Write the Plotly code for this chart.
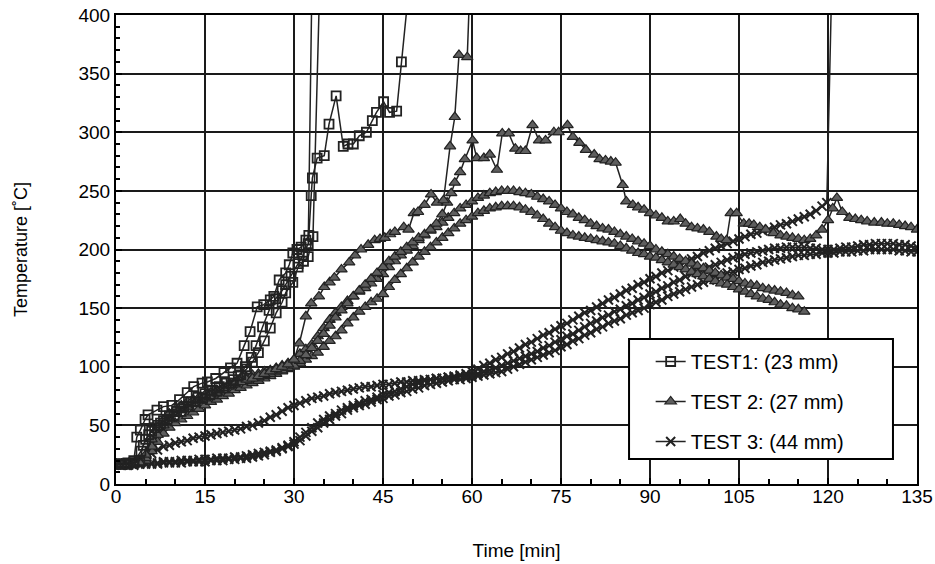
import plotly.graph_objects as go

# ---------------- data (time [min], temperature [C]) ----------------
# TEST1 (23 mm) - square markers
test1_a = [(0,17),(1,17),(2,17),(3,20),(3.5,40),(4.1,46),(4.9,55),(5.4,59),(6.9,63),(8,66),(9.4,67),(10.7,72),
           (12,78),(13.1,83),(14.5,86),(15.4,87),(16.8,90),(18.2,95),(19.3,99),(20.4,103),(21.6,118),(22.6,130),
           (23.8,151),(24.9,153),(26,157),(26.6,160),(27.5,174),(28.6,180),(29.2,187),(29.8,197),(30.5,200),
           (31.2,202),(32,208),(32.5,212),(32.9,246),(33.1,261),(33.9,278),(35.1,280),(35.9,307),(37.1,331),
           (38.3,288),(39.1,290),(40,290),(41,297),(42.2,300),(43.2,310),(43.9,317),(45.1,326),(46.1,317),
           (47.3,318),(48.1,360),(49.3,420)]
test1_b = [(0,17),(1,17),(2,18),(3,18),(4,20),(4.6,33),(5.5,42),(6.5,48),(7.5,52),(8.6,55),(9.8,58),(11,62),
           (12.2,66),(13.4,70),(14.6,73),(15.8,76),(17,79),(18.2,82),(19.4,86),(20.6,92),(21.8,100),(22.8,108),
           (23.6,118),(24.7,134),(25.8,148),(26.9,158),(28,165),(28.6,170),(29.5,177),(30.7,188),(31.5,195),
           (32.4,205),(33.0,420)]
test1_c = [(0,17),(1,17),(2,17),(3,18),(4.2,28),(5,38),(6,45),(7,50),(8,54),(9,58),(10.2,62),(11.4,66),
           (12.6,70),(13.8,74),(15,77),(16.2,80),(17.4,83),(18.6,86),(19.8,89),(21,93),(22,98),(23,104),
           (24,112),(25,122),(26,133),(27,146),(28,155),(28.6,163),(29.8,172),(30.7,185),(31.6,190),(32.4,194),
           (33.2,211),(34.3,420)]

# TEST 2 (27 mm) - triangle markers
test2_a = [(0,17),(1,17),(2,17),(3,17),(4,18),(5,25),(6,38),(7,48),(8,55),(9,60),(10,64),(11,67),(12,70),
           (13,72),(14,74),(15,76),(16,78),(17,80),(18,82),(19,84),(20,86),(21,87),(22,89),(23,90),(24,92),
           (25,94),(26,96),(27,98),(28,100),(29,102),(30,106),(30.9,120),(32,143),(32.9,154),(34.2,160),
           (35.1,168),(36,172),(36.8,176),(38,183),(39.3,189),(40.3,195),(41.3,200),(42.5,204),(43.6,208),
           (44.5,209),(45.3,210),(46.2,213),(47,215),(48.5,219),(49.3,217),(50.2,231),(50.9,232),(52,238),
           (53.1,247),(54.1,240),(55.2,242),(56.3,288),(57.1,313),(57.8,366),(59.2,364),(59.6,420)]
test2_b = [(0,17),(1,17),(2,17),(3,17),(4,18),(5,22),(6,32),(7,42),(8,50),(9,55),(10,60),(11,63),(12,66),
           (13,69),(14,71),(15,73),(16,75),(17,78),(18,80),(19,83),(20,85),(21,87),(22,88),(23,90),(24,91),
           (25,93),(26,94),(27,96),(28,97),(29,99),(30,101),(31,105),(32,110),(33,116),(34,122),(35,128),
           (36,135),(37,142),(38,148),(39,154),(40,160),(41,165),(42,170),(43,175),(44,180),(45,185),(46,190),
           (47,194),(48,198),(49,202),(50,206),(51,210),(52,213),(53,217),(54,222),(55,230),(55.8,240),
           (56.5,248),(57.1,257),(58,266),(58.8,277),(60.1,293),(60.8,278),(62,278),(63,281),(64.2,268),
           (65.1,299),(66.2,299),(67.3,286),(68.2,284),(69,284),(70.2,306),(71.3,293),(72.4,293),(73.8,300),
           (74.6,300),(76.1,306),(77,296),(78.1,291),(79.2,285),(80.6,281),(81.5,277),(82.5,276),(83.4,275),
           (84.2,274),(85.4,255),(86,241),(87.1,238),(88,236),(89,234),(90,231),(91,229),(92,227),(93,224),
           (94,224),(95.1,226),(96,222),(97,219),(98,218),(99,217),(100,215),(101.2,211),(102,209),(102.9,208),
           (103.6,231),(104.6,231),(105.8,222),(106.7,222),(107.5,221),(108.5,219),(109.5,217),(110.8,214),
           (112,212),(113,211),(114,210),(115,209),(116,208),(117,209),(118,212),(119,217),(120,225),
           (120.8,235),(121.5,244),(122.4,232),(123.6,227),(124.6,226),(125.6,225),(126.6,224),(127.8,223),
           (129,223),(130,222),(131,222),(132,221),(133,220),(134,219),(135,217)]
test2_c_t = list(range(0, 117))
test2_c_v = [17,17,17,17,18,24,33,42,50,56,60,63,66,69,72,75,77,80,82,85,87,89,91,93,94,96,97,99,101,103,
             106,111,115,119,126,133,140,146,151,156,160,164,167,171,175,179,185,190,195,199,203,208,212,216,
             219,223,227,231,235,238,241,244,246,248,249,250,250,250,249,248,247,245,243,241,238,235,232,230,
             227,225,222,220,218,217,215,213,211,209,207,205,203,200,198,196,194,192,190,188,186,184,182,180,
             178,176,175,173,171,170,169,167,166,165,164,163,161,160]
test2_d_t = list(range(0, 117))
test2_d_v = [17,17,17,17,17,20,28,36,43,48,52,55,58,61,64,67,70,72,75,77,80,82,84,86,88,90,92,94,96,98,
             100,103,106,109,112,117,122,126,131,137,142,147,151,155,158,162,168,174,179,184,189,194,198,202,
             206,210,214,218,222,225,228,231,233,235,236,237,237,237,236,234,232,229,226,222,219,216,214,212,
             211,210,209,208,207,206,205,203,201,199,197,196,194,193,191,189,187,185,183,181,179,177,175,173,
             171,170,168,166,164,162,160,158,157,155,153,152,150,149,147]

# TEST 3 (44 mm) - cross markers
test3_t = list(range(0, 136))
test3_a_t = list(range(0, 120)) + [119.8, 120.6]
test3_a_v = [17,17,17,18,19,22,26,29,32,33,35,36,37,39,40,41,42,43,44,45,46,47,49,50,52,54,57,59,62,65,
             67,69,71,73,74,75,77,78,79,80,81,82,83,83,84,85,85,86,87,87,88,88,89,89,90,90,91,92,93,94,
             96,98,101,103,106,108,111,113,116,119,121,124,127,129,132,135,137,140,143,146,148,151,154,157,159,
             162,165,167,170,172,175,177,180,182,185,187,190,192,194,197,199,201,203,205,207,209,211,213,214,
             216,217,219,221,222,224,226,228,230,233,237,240,420]
test3_b = [17,17,17,17,17,18,18,18,19,19,19,20,20,20,21,21,21,22,22,22,23,23,24,25,26,27,28,29,31,33,
           36,40,44,48,52,55,58,60,63,65,67,69,71,72,74,76,78,79,81,83,85,86,88,89,90,90,91,91,92,92,
           93,94,96,97,99,101,103,105,107,109,111,113,116,118,121,123,126,128,131,134,137,139,142,144,147,
           149,152,154,157,159,162,164,167,169,172,174,177,179,181,183,185,187,189,191,193,194,196,197,198,
           199,200,201,201,202,202,202,202,201,201,200,200,200,201,202,202,203,204,204,205,205,205,205,204,
           204,203,202]
test3_c = [17,16,16,16,17,17,17,17,18,18,18,18,19,19,19,19,20,20,20,21,21,22,22,23,24,25,27,28,30,32,
           34,37,41,45,48,52,55,58,60,63,65,67,68,70,72,73,75,76,78,79,81,82,84,85,86,87,88,89,89,90,
           91,92,93,94,95,96,98,100,102,104,106,108,110,112,114,117,119,122,124,127,129,132,134,137,139,
           141,144,146,148,150,153,155,157,160,162,164,166,168,170,172,174,176,178,180,181,183,184,186,187,
           189,190,191,192,193,194,195,195,196,196,197,197,197,198,198,198,199,199,200,200,200,200,200,199,
           199,198,198]

legend_names = ["TEST1: (23 mm)", "TEST 2: (27 mm)", "TEST 3: (44 mm)"]
x_ticks = [0, 15, 30, 45, 60, 75, 90, 105, 120, 135]
y_ticks = [0, 50, 100, 150, 200, 250, 300, 350, 400]

# ---------------- styles ----------------
LINE = "#222222"
FONT = "Liberation Sans, Arial, sans-serif"
groups = ["t1", "t2", "t3"]
styles = {
    "t1": dict(symbol="square-open", size=9, color=LINE, line=dict(width=1.8, color=LINE)),
    "t2": dict(symbol="triangle-up", size=10, color="#5e5e5e", line=dict(width=1.2, color=LINE)),
    "t3": dict(symbol="x-thin-open", size=9, color=LINE, line=dict(width=2, color=LINE)),
}

fig = go.Figure()


def add(xs, ys, group, show):
    fig.add_trace(go.Scatter(
        x=xs, y=ys, mode="lines+markers",
        line=dict(color=LINE, width=1.5),
        marker=styles[group],
        legendgroup=group, showlegend=show, legendrank=groups.index(group) + 1,
        name=legend_names[groups.index(group)],
    ))


def unzip(p):
    return [a for a, _ in p], [b for _, b in p]


# draw order: TEST3, TEST2, TEST1
add(test3_a_t, test3_a_v, "t3", False)
add(test3_t, test3_b, "t3", False)
add(test3_t, test3_c, "t3", True)
add(test2_c_t, test2_c_v, "t2", False)
add(test2_d_t, test2_d_v, "t2", False)
add(*unzip(test2_b), "t2", False)
add(*unzip(test2_a), "t2", True)
add(*unzip(test1_b), "t1", False)
add(*unzip(test1_c), "t1", False)
add(*unzip(test1_a), "t1", True)

axis_common = dict(
    showline=True, mirror=True, linecolor="black", linewidth=2,
    showgrid=True, gridcolor="#1a1a1a", gridwidth=2.4,
    ticks="inside", ticklen=6, tickcolor="black", tickwidth=1.5,
    zeroline=False, automargin=False,
    tickfont=dict(family=FONT, size=19, color="black"),
)

fig.update_xaxes(
    range=[0, 135], tickmode="array", tickvals=x_ticks, ticktext=[str(v) for v in x_ticks],
    minor=dict(dtick=5, tick0=0, ticks="inside", ticklen=5, tickcolor="black", tickwidth=1.5, showgrid=False),
    ticklabelstandoff=-6,
    title=dict(text="Time [min]", font=dict(family=FONT, size=19, color="black"), standoff=38),
    **axis_common,
)
fig.update_yaxes(
    range=[0, 400], tickmode="array", tickvals=y_ticks, ticktext=[str(v) for v in y_ticks],
    minor=dict(dtick=10, tick0=0, ticks="inside", ticklen=4, tickcolor="black", tickwidth=1.5, showgrid=False),
    title=dict(text="Temperature [˚C]", font=dict(family=FONT, size=18, color="black"), standoff=46),
    **axis_common,
)

# legend box
fig.add_shape(type="rect", xref="paper", yref="paper", x0=0.6405, x1=0.970, y0=0.0533, y1=0.309,
              fillcolor="white", line=dict(color="black", width=2), layer="above")

fig.update_layout(
    width=935, height=564,
    margin=dict(l=116, r=18, t=15, b=80),
    paper_bgcolor="white", plot_bgcolor="white",
    font=dict(family=FONT, size=19, color="black"),
    legend=dict(x=0.6675, y=0.3028, xanchor="left", yanchor="top",
                bgcolor="rgba(0,0,0,0)", borderwidth=0,
                tracegroupgap=11, traceorder="grouped",
                font=dict(family=FONT, size=20, color="black")),
)

fig.write_html("out.html", config={"displayModeBar": False},
               post_script="document.body.style.margin='0px';")
